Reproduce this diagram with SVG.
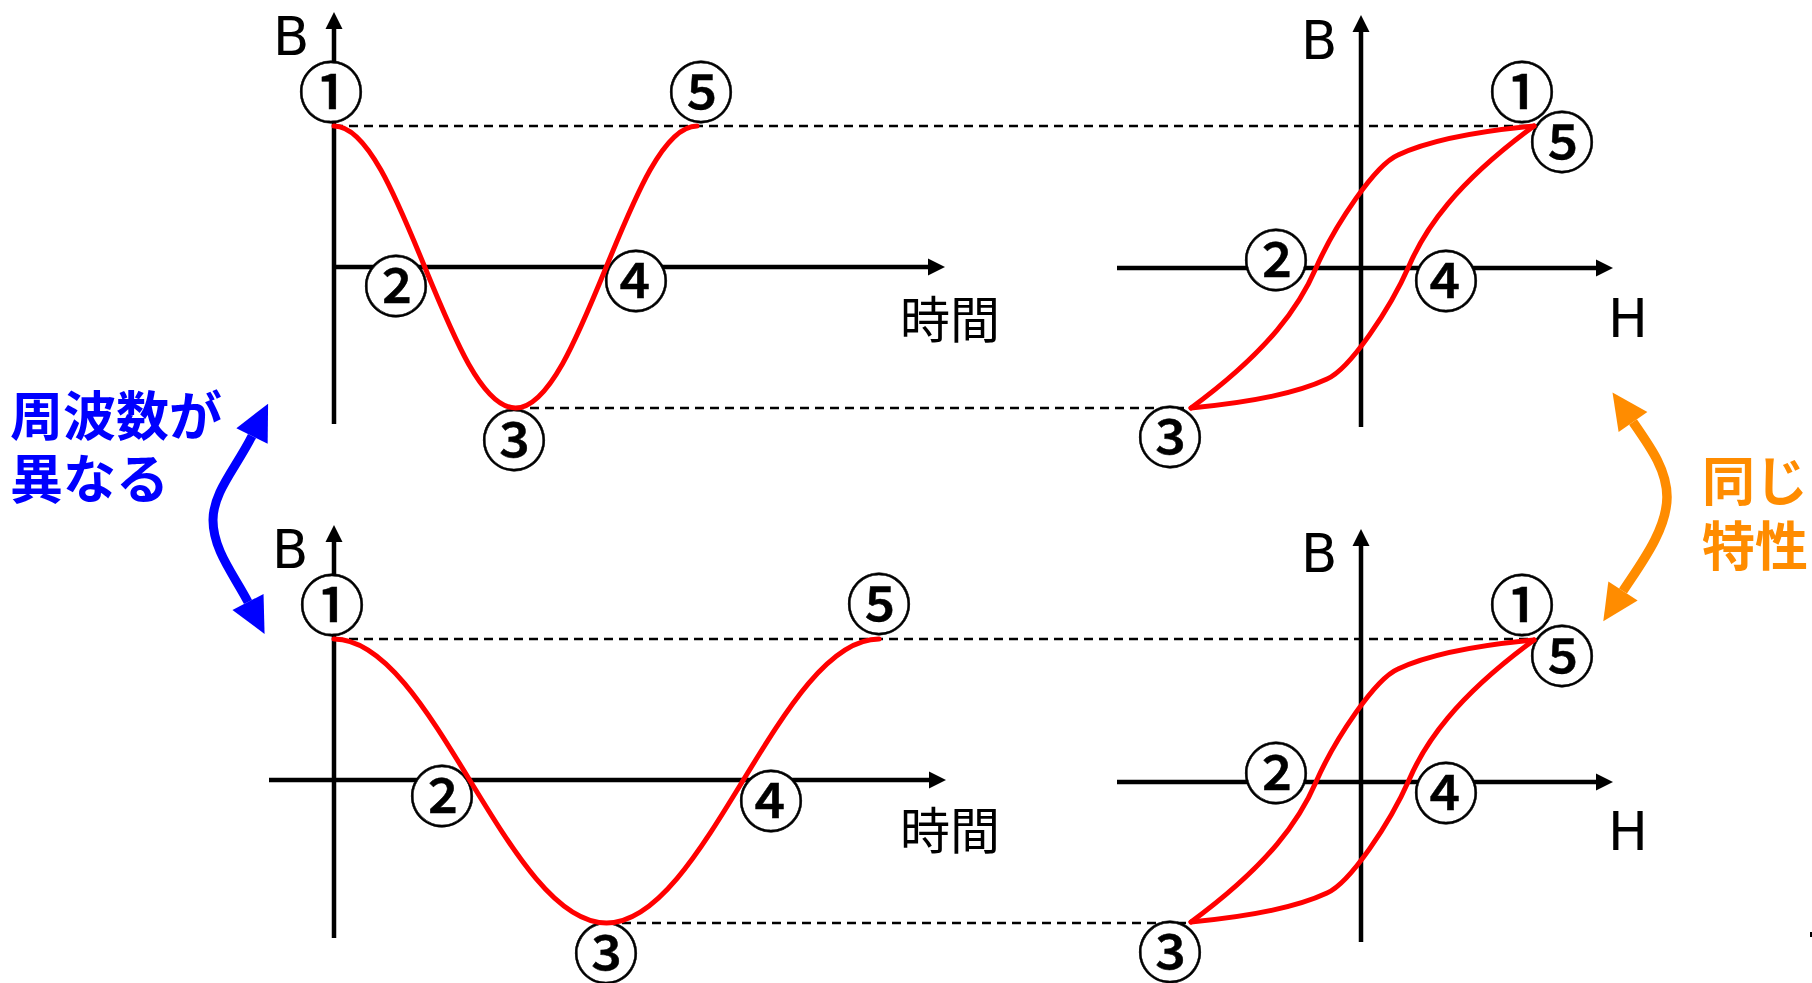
<svg xmlns="http://www.w3.org/2000/svg" width="1812" height="983" viewBox="0 0 1812 983">
<style>
.axis{stroke:#000;stroke-width:4.5;fill:none}
.dash{stroke:#000;stroke-width:2.6;stroke-dasharray:9 6;fill:none}
.curve{stroke:#FF0000;stroke-width:5;fill:none;stroke-linecap:round;stroke-linejoin:round}
.bg{fill:#fff}
.num{font-family:"Noto Sans CJK JP","DejaVu Sans",sans-serif;font-size:66px;font-weight:500;text-anchor:middle;fill:#000;stroke:#000;stroke-width:0.5}
.lbl{font-family:"DejaVu Sans","Liberation Sans",sans-serif;fill:#000}
.jp{font-family:"Noto Sans CJK JP",sans-serif;font-size:50px;fill:#000}
.note{font-family:"Noto Sans CJK JP",sans-serif;font-size:53px;font-weight:bold}
</style>
<defs>
<marker id="ah" markerUnits="userSpaceOnUse" markerWidth="20" markerHeight="20" viewBox="0 -10 18 20" refX="0" refY="0" orient="auto"><path d="M0,-8.5 L17,0 L0,8.5 z" fill="#000"/></marker>
<marker id="blueHead" markerUnits="userSpaceOnUse" markerWidth="40" markerHeight="40" viewBox="0 -20 38 40" refX="0" refY="0" orient="auto-start-reverse"><path d="M0,-17.5 L36,0 L0,17.5 z" fill="#0000FF"/></marker>
<marker id="orangeHead" markerUnits="userSpaceOnUse" markerWidth="40" markerHeight="40" viewBox="0 -20 38 40" refX="0" refY="0" orient="auto-start-reverse"><path d="M0,-17.5 L36,0 L0,17.5 z" fill="#FF8C00"/></marker>
</defs>

<g id="guides">
<path class="dash" d="M334,126 H1534"/>
<path class="dash" d="M515,408 H1191"/>
<path class="dash" d="M334,639 H1534"/>
<path class="dash" d="M607,923 H1191"/>
</g>

<g id="graph-time-top">
<path class="axis" d="M334,424 V29" marker-end="url(#ah)"/>
<path class="axis" d="M334,267 H928" marker-end="url(#ah)"/>
<text class="lbl" x="273" y="55" font-size="53">B</text>
<text class="jp" x="900" y="338">時間</text>
<circle class="bg" cx="331" cy="92" r="30"/><text class="num" x="331" y="117">①</text>
<circle class="bg" cx="396" cy="286" r="30"/><text class="num" x="396" y="311">②</text>
<circle class="bg" cx="514" cy="440" r="30"/><text class="num" x="514" y="465">③</text>
<circle class="bg" cx="636" cy="281" r="30"/><text class="num" x="636" y="306">④</text>
<circle class="bg" cx="701" cy="92" r="30"/><text class="num" x="701" y="117">⑤</text>
<path class="curve" d="M334,126 C400,126 449.5,408 515.5,408 C581.5,408 631,126 697,126"/>
</g>

<g id="graph-bh-top">
<path class="axis" d="M1361,427 V32" marker-end="url(#ah)"/>
<path class="axis" d="M1117,268 H1596" marker-end="url(#ah)"/>
<text class="lbl" x="1301" y="59" font-size="53">B</text>
<text class="lbl" x="1608" y="337" font-size="53">H</text>
<circle class="bg" cx="1522" cy="92" r="30"/><text class="num" x="1522" y="117">①</text>
<circle class="bg" cx="1276" cy="260" r="30"/><text class="num" x="1276" y="285">②</text>
<circle class="bg" cx="1170" cy="437" r="30"/><text class="num" x="1170" y="462">③</text>
<circle class="bg" cx="1446" cy="281" r="30"/><text class="num" x="1446" y="306">④</text>
<circle class="bg" cx="1562" cy="142" r="30"/><text class="num" x="1562" y="167">⑤</text>
<path class="curve" d="M1534,126 C1480,131 1430,140 1398,155 C1375,165 1335,225 1316,268 C1300,305 1270,350 1191,408"/>
<path class="curve" d="M1191,408 C1245,403 1295,394 1327,379 C1350,369 1390,309 1409,266 C1425,229 1455,184 1534,126"/>
</g>

<g id="graph-time-bottom">
<path class="axis" d="M334,938 V542" marker-end="url(#ah)"/>
<path class="axis" d="M269,780 H929" marker-end="url(#ah)"/>
<text class="lbl" x="272" y="568" font-size="53">B</text>
<text class="jp" x="900" y="849">時間</text>
<circle class="bg" cx="332" cy="605" r="30"/><text class="num" x="332" y="630">①</text>
<circle class="bg" cx="442" cy="796" r="30"/><text class="num" x="442" y="821">②</text>
<circle class="bg" cx="606" cy="953" r="30"/><text class="num" x="606" y="978">③</text>
<circle class="bg" cx="771" cy="801" r="30"/><text class="num" x="771" y="826">④</text>
<circle class="bg" cx="879" cy="604" r="30"/><text class="num" x="879" y="629">⑤</text>
<path class="curve" d="M334,639 C433,639 507.5,923 606.5,923 C705.5,923 780,639 879,639"/>
</g>

<g id="graph-bh-bottom">
<path class="axis" d="M1361,942 V546" marker-end="url(#ah)"/>
<path class="axis" d="M1117,782 H1596" marker-end="url(#ah)"/>
<text class="lbl" x="1301" y="572" font-size="53">B</text>
<text class="lbl" x="1608" y="850" font-size="53">H</text>
<circle class="bg" cx="1522" cy="605" r="30"/><text class="num" x="1522" y="630">①</text>
<circle class="bg" cx="1276" cy="773" r="30"/><text class="num" x="1276" y="798">②</text>
<circle class="bg" cx="1170" cy="952" r="30"/><text class="num" x="1170" y="977">③</text>
<circle class="bg" cx="1446" cy="793" r="30"/><text class="num" x="1446" y="818">④</text>
<circle class="bg" cx="1562" cy="656" r="30"/><text class="num" x="1562" y="681">⑤</text>
<g transform="translate(0,514)">
<path class="curve" d="M1534,126 C1480,131 1430,140 1398,155 C1375,165 1335,225 1316,268 C1300,305 1270,350 1191,408"/>
<path class="curve" d="M1191,408 C1245,403 1295,394 1327,379 C1350,369 1390,309 1409,266 C1425,229 1455,184 1534,126"/>
</g>
</g>

<g id="label-freq">
<text class="note" fill="#0000FF" x="10" y="436">周波数が</text>
<text class="note" fill="#0000FF" x="10" y="499">異なる</text>
</g>
<g id="label-same">
<text class="note" fill="#FF8C00" x="1702" y="501">同じ</text>
<text class="note" fill="#FF8C00" x="1702" y="566">特性</text>
</g>

<g id="connectors">
<path d="M252,436 C236,468 213,492 213,520 C213,550 234,575 248,602" stroke="#0000FF" stroke-width="9" fill="none" marker-start="url(#blueHead)" marker-end="url(#blueHead)"/>
<path d="M1633,422 C1651,448 1667,470 1667,497 C1667,530 1640,565 1623,591" stroke="#FF8C00" stroke-width="9.5" fill="none" marker-start="url(#orangeHead)" marker-end="url(#orangeHead)"/>
</g>

<rect x="1810" y="932" width="2" height="5" fill="#000"/>
</svg>
